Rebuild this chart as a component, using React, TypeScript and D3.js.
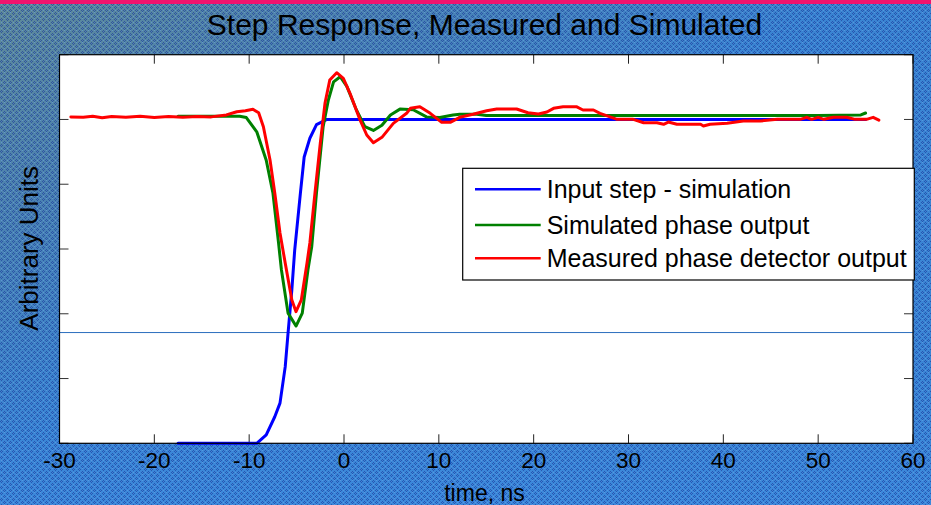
import React from "react";
import * as d3 from "d3";

const xTicks = [-30, -20, -10, 0, 10, 20, 30, 40, 50, 60];
const yTicks = [0, 1, 2, 3, 4, 5, 6];

const blueT = [-17.5, -9.2, -8.2, -7.3, -6.75, -6.2, -5.9, -5.5, -5.2, -4.6, -4.2, -3.6, -2.9, -1.8, 55];
const blueV = [0, 0, 0.13, 0.41, 0.62, 1.18, 1.7, 2.37, 2.98, 3.86, 4.42, 4.71, 4.92, 5.0, 5.0];

const greenT = [-17.5, -11, -10.3, -9.2, -8.2, -7.5, -6.9, -6.6, -5.9, -5.06, -4.4, -3.8, -3.4, -2.9, -2.2, -1.65, -1.1, -0.4, 0.3, 1.3, 2.2, 3.1, 4.0, 4.9, 5.9, 7.3, 8.7, 10.1, 11.5, 12.2, 14, 15, 20, 30, 40, 50, 54.5, 55];
const greenV = [5.05, 5.05, 5.03, 4.81, 4.37, 3.87, 3.09, 2.68, 2.01, 1.81, 2.01, 2.68, 3.04, 3.87, 4.89, 5.3, 5.58, 5.66, 5.51, 5.15, 4.89, 4.83, 4.91, 5.07, 5.16, 5.15, 5.04, 5.03, 5.07, 5.08, 5.08, 5.06, 5.06, 5.06, 5.06, 5.06, 5.07, 5.1];

const redT = [-28.8, -27.5, -26.5, -25.5, -24.5, -23, -21.5, -20, -18.5, -17, -15.5, -14, -12.4, -11.3, -10.4, -9.6, -9.0, -8.5, -7.8, -7.3, -6.75, -6.2, -5.5, -5.06, -4.5, -3.9, -3.6, -3.06, -2.5, -2.0, -1.5, -0.77, -0.07, 0.63, 1.7, 2.4, 3.1, 4.0, 5.2, 6.6, 7.0, 8.0, 9.1, 10.3, 11.2, 12.2, 13.6, 15.05, 16.1, 18.2, 19.4, 20.5, 21.4, 22.1, 23.1, 24.5, 25.2, 26.3, 27, 28.8, 30.5, 31.6, 33, 33.7, 34.2, 35.1, 37.6, 37.9, 38.6, 40.4, 42.1, 43.9, 45.7, 48.1, 48.8, 49.3, 50, 50.6, 51.6, 53, 53.9, 55.1, 55.8, 56.4];
const redV = [5.04, 5.035, 5.05, 5.025, 5.045, 5.035, 5.05, 5.03, 5.045, 5.035, 5.045, 5.04, 5.07, 5.12, 5.135, 5.157, 5.104, 4.888, 4.374, 3.865, 3.247, 2.784, 2.213, 2.032, 2.213, 2.784, 3.093, 3.865, 4.636, 5.254, 5.609, 5.722, 5.635, 5.404, 4.99, 4.76, 4.641, 4.724, 4.94, 5.095, 5.172, 5.197, 5.095, 4.956, 4.956, 5.033, 5.08, 5.135, 5.161, 5.161, 5.104, 5.084, 5.115, 5.172, 5.197, 5.197, 5.146, 5.146, 5.095, 5.002, 5.002, 4.95, 4.95, 4.925, 4.96, 4.925, 4.925, 4.899, 4.925, 4.94, 4.976, 4.976, 5.002, 5.002, 5.033, 5.002, 5.033, 5.002, 5.033, 5.033, 5.002, 5.002, 5.033, 4.99];

const refLineV = 1.71;

const legendLabels = ["Input step - simulation", "Simulated phase output", "Measured phase detector output"];
const seriesColors = ["#0000ff", "#008000", "#ff0000"];

const W = 931;
const H = 505;
const L = 59.5, R = 913, T = 54.7, B = 443.3;
const FONT = "'Liberation Sans', Arial, Helvetica, sans-serif";

export default function App() {
  const x = d3.scaleLinear().domain([-30, 60]).range([L, R]);
  const y = d3.scaleLinear().domain([0, 6]).range([B, T]);
  const line = d3
    .line<number>()
    .x((d) => x(d[0]))
    .y((d) => y(d[1]));
  const zip = (a: number[], b: number[]) => a.map((t, i) => [t, b[i]]) as any;
  const series = [
    zip(blueT, blueV),
    zip(greenT, greenV),
    zip(redT, redV),
  ];
  const tickLen = 9;
  const legX = 462.7, legY = 168.3, legW = 451.6, legH = 111.7;
  const rowY = [189.3, 225, 258.3];

  return (
    <svg
      width={W}
      height={H}
      style={{ position: "absolute", left: 0, top: 0, display: "block" }}
      fontFamily={FONT}
    >
      <defs>
        <linearGradient id="bg" x1="0" y1="0" x2="1" y2="1">
          <stop offset="0" stopColor="#5f8a98" />
          <stop offset="0.22" stopColor="#4a82b2" />
          <stop offset="0.45" stopColor="#3a84d2" />
          <stop offset="1" stopColor="#3b86d6" />
        </linearGradient>
        <linearGradient id="bg2" x1="0" y1="0" x2="0" y2="1">
          <stop offset="0" stopColor="#3a86d6" stopOpacity="0" />
          <stop offset="0.6" stopColor="#3a86d6" stopOpacity="0" />
          <stop offset="1" stopColor="#3d8be0" stopOpacity="0.6" />
        </linearGradient>
        <pattern id="dots" width="6" height="6" patternUnits="userSpaceOnUse">
          <rect x="1" y="0" width="1" height="1" fill="#1c3c9c" />
          <rect x="0" y="1" width="1" height="1" fill="#1c3c9c" />
          <rect x="2" y="1" width="1" height="1" fill="#1c3c9c" />
          <rect x="1" y="2" width="1" height="1" fill="#1c3c9c" />
          <rect x="4" y="3" width="1" height="1" fill="#1c3c9c" />
          <rect x="3" y="4" width="1" height="1" fill="#1c3c9c" />
          <rect x="5" y="4" width="1" height="1" fill="#1c3c9c" />
          <rect x="4" y="5" width="1" height="1" fill="#1c3c9c" />
          <rect x="4" y="0" width="1" height="1" fill="#6aa0e0" />
          <rect x="1" y="4" width="1" height="1" fill="#6aa0e0" />
        </pattern>
      </defs>
      <rect x={0} y={0} width={W} height={H} fill="url(#bg)" />
      <rect x={0} y={0} width={W} height={H} fill="url(#bg2)" />
      <rect x={0} y={0} width={W} height={H} fill="url(#dots)" opacity={0.65} />
      <rect x={0} y={0} width={W} height={4} fill="#f0146e" />

      <text x={484.5} y={35} textAnchor="middle" fontSize={30} fill="#000">
        Step Response, Measured and Simulated
      </text>

      <rect x={L} y={T} width={R - L} height={B - T} fill="#ffffff" />

      <line x1={L} x2={R} y1={y(refLineV)} y2={y(refLineV)} stroke="#2a6ebd" strokeWidth={1} />

      {xTicks.map((t) => (
        <g key={"xt" + t}>
          <line x1={x(t)} x2={x(t)} y1={B} y2={B - tickLen} stroke="#222" strokeWidth={1} />
          <line x1={x(t)} x2={x(t)} y1={T} y2={T + tickLen} stroke="#222" strokeWidth={1} />
          <text x={x(t)} y={468} textAnchor="middle" fontSize={22.5} fill="#000">
            {t}
          </text>
        </g>
      ))}
      {yTicks.map((v) => (
        <g key={"yt" + v}>
          <line x1={L} x2={L + tickLen} y1={y(v)} y2={y(v)} stroke="#333" strokeWidth={1} />
          <line x1={R} x2={R - tickLen} y1={y(v)} y2={y(v)} stroke="#333" strokeWidth={1} />
        </g>
      ))}

      {series.map((s, i) => (
        <path
          key={"s" + i}
          d={line(s) || ""}
          fill="none"
          stroke={seriesColors[i]}
          strokeWidth={3}
          strokeLinejoin="round"
          strokeLinecap="round"
        />
      ))}

      <rect x={L} y={T} width={R - L} height={B - T} fill="none" stroke="#000" strokeWidth={1.2} />

      <rect x={legX} y={legY} width={legW} height={legH} fill="#ffffff" stroke="#000" strokeWidth={1.2} />
      {legendLabels.map((lab, i) => (
        <g key={"lg" + i}>
          <line x1={475} x2={540.7} y1={rowY[i]} y2={rowY[i]} stroke={seriesColors[i]} strokeWidth={2.5} />
          <text x={546.7} y={rowY[i] + 9} fontSize={25} fill="#000">
            {lab}
          </text>
        </g>
      ))}

      <text x={484.5} y={501} textAnchor="middle" fontSize={23} fill="#000">
        time, ns
      </text>
      <text
        transform={`translate(38,248.3) rotate(-90)`}
        textAnchor="middle"
        fontSize={26}
        fill="#000"
      >
        Arbitrary Units
      </text>
    </svg>
  );
}
